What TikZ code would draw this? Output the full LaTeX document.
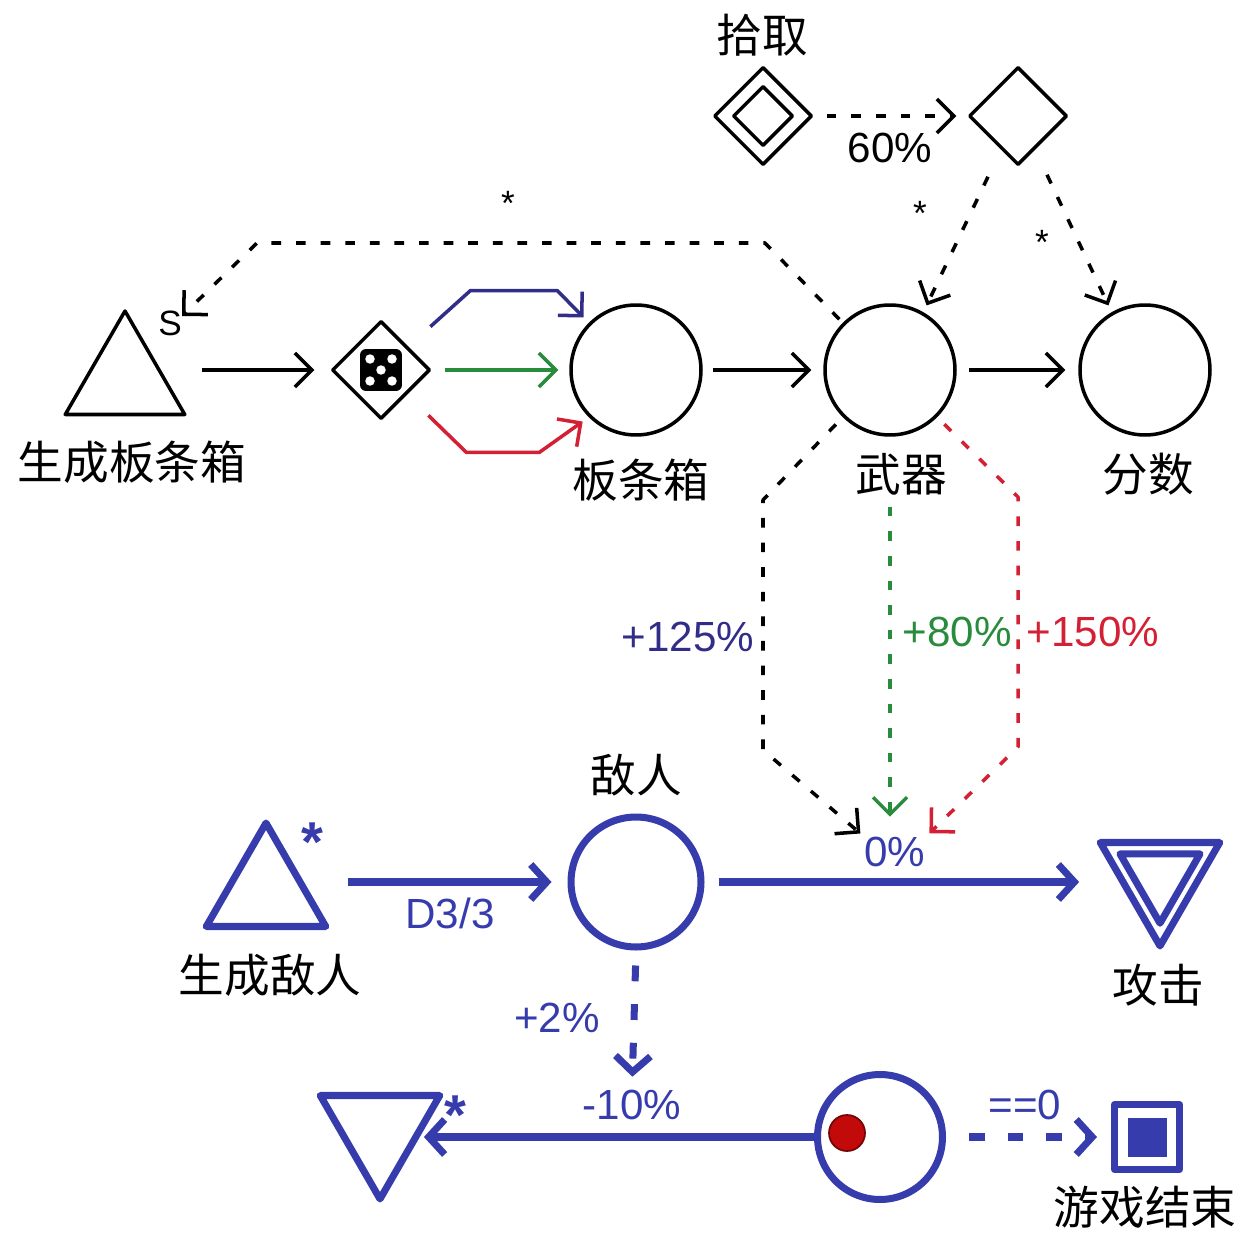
\documentclass[tikz,border=0pt]{standalone}
\usepackage{fontspec}
\setmainfont{Liberation Sans}
\newfontfamily\cjk{Noto Sans CJK SC}
\usetikzlibrary{shapes.geometric,arrows.meta}
\definecolor{mblue}{RGB}{55,60,172}
\definecolor{mnavy}{RGB}{50,46,135}
\definecolor{mgreen}{RGB}{40,140,60}
\definecolor{mred}{RGB}{212,32,52}
\definecolor{mdot}{RGB}{195,10,10}
\begin{document}
\begin{tikzpicture}[x=0.02cm, y=-0.02cm, line join=round,
  >={Straight Barb[length=0.34cm,width=0.68cm]},
  ctext/.style={font=\cjk\fontsize{26}{28}\selectfont, inner sep=0pt},
  ntext/.style={font=\fontsize{24}{26}\selectfont, inner sep=0pt},
  smallstar/.style={font=\fontsize{20}{22}\selectfont, inner sep=0pt},
  bigstar/.style={font=\bfseries\fontsize{32}{34}\selectfont, inner sep=0pt, mblue},
  pool/.style={circle, draw, line width=2pt, minimum size=2.6cm, inner sep=0pt},
  gate/.style={diamond, draw, line width=2pt, minimum size=1.96cm, inner sep=0pt},
  source/.style={regular polygon, regular polygon sides=3, draw, line width=2pt, minimum size=2.76cm, inner sep=0pt},
  drain/.style={source, shape border rotate=180},
  flow/.style={->, line width=2pt},
  modlink/.style={->, line width=2pt, dash pattern=on 5.5pt off 8.5pt},
  bpool/.style={pool, draw=mblue, line width=4pt},
  bflow/.style={-{Straight Barb[length=0.32cm,width=0.7cm]}, draw=mblue, line width=4pt},
  bmod/.style={bflow, dash pattern=on 9pt off 13pt},
]
  % 1. Oben: Aufsammeln, Kisten, Waffe, Punkte.
  % 2. Modifikatoren der Waffe auf den Angriff.
  % 3. Unten: Gegner, Leben, Spielende.
  \useasboundingbox (0,0) rectangle (1255,1233);

  % pickup
  \node[ctext] (pickuplbl) at (762,35) {拾取};
  \node[gate] (pickup) at (763,116) {};
  \node[gate, minimum size=1.2cm] (pickupin) at (pickup) {};
  \node[gate] (picked) at (1018,116) {};
  \node[ntext] (pct60) at (890,148) {60\%};

  % crates row
  \node[source] (cratesrc) at (125,380) {};
  \node[smallstar] (slbl) at (170,323) {S};
  \node[ctext] (cratesrclbl) at (132,462) {生成板条箱};
  \node[gate] (dice) at (381,370) {};
  \node[fill=black, rounded corners=0.12cm, minimum size=0.84cm, inner sep=0pt] (die) at (dice) {};
  \foreach \dx/\dy in {-11/-11, 11/-11, 0/0, -11/11, 11/11}
    \fill[white] ([shift={(\dx,\dy)}]die.center) circle (0.095cm);
  \node[pool] (crate) at (636,370) {};
  \node[ctext] (cratelbl) at (641,480) {板条箱};
  \node[pool] (weapon) at (890,370) {};
  \node[ctext] (weaponlbl) at (901,474) {武器};
  \node[pool] (score) at (1145,370) {};
  \node[ctext] (scorelbl) at (1148,474) {分数};
  \node[smallstar] (star1) at (508,203) {*};
  \node[smallstar] (star2) at (920,213) {*};
  \node[smallstar] (star3) at (1042,242) {*};

  \draw[modlink, shorten <=0.26cm, shorten >=0.22cm] (pickup.east) -- (picked.west);
  \draw[modlink, shorten >=0.15cm] ([shift={(-30,10)}]picked.south) -- (weapon.60);
  \draw[modlink, shorten >=0.15cm] ([shift={(29,8)}]picked.south) -- (score.120);

  \draw[flow, shorten <=0.7cm, shorten >=0.32cm] (cratesrc.east |- dice.west) -- (dice.west);
  \draw[flow, mnavy, shorten >=0.15cm] ([shift={(24,-18)}]dice.north east) -- ++(40,-36) -- ++(87,0) -- (crate.135);
  \draw[flow, mgreen, shorten <=0.26cm, shorten >=0.22cm] (dice.east) -- (crate.west);
  \draw[flow, mred, shorten >=0.15cm] ([shift={(22,20)}]dice.south east) -- ++(38,37) -- ++(73,0) -- (crate.225);
  \draw[flow, shorten <=0.2cm, shorten >=0.24cm] (crate) -- (weapon);
  \draw[flow, shorten <=0.24cm, shorten >=0.26cm] (weapon) -- (score);

  \coordinate (sbendr) at (765,243);
  \coordinate (sbendl) at (257,243);
  \coordinate (stip) at (182,316);
  \draw[modlink, shorten <=0.1cm] (weapon.135) -- (sbendr) -- (sbendl) -- (stip);

  % enemies row
  \node[source, draw=mblue, line width=4pt] (enemysrc) at (266,892) {};
  \node[bigstar] (star4) at (312,842) {*};
  \node[ctext] (enemysrclbl) at (270,975) {生成敌人};
  \node[bpool] (enemy) at (636,882) {};
  \node[ctext] (enemylbl) at (636,775) {敌人};
  \node[drain, draw=mblue, line width=4pt] (attack) at (1160,877) {};
  \node[drain, draw=mblue, line width=4pt, minimum size=1.85cm] (attackin) at (attack) {};
  \node[ctext] (attacklbl) at (1158,985) {攻击};
  \node[ntext, mblue] (d33) at (450,913) {D3/3};
  \node[ntext, mblue] (zero) at (895,852) {0\%};

  \draw[bflow, shorten <=0.76cm, shorten >=0.32cm] (enemysrc.east |- enemy.west) -- (enemy.west);
  \draw[bflow, shorten <=0.28cm, shorten >=0.74cm] (enemy.east) -- (enemy.east -| attack.west);

  % weapon modifiers
  \coordinate (m1a) at (763,500);
  \coordinate (m1b) at (763,750);
  \coordinate (m3a) at (1018,497);
  \coordinate (m3b) at (1018,747);
  \draw[modlink, shorten <=0.2cm, shorten >=0.1cm] (weapon.225) -- (m1a) -- (m1b) -- (zero.north west);
  \draw[modlink, mgreen, shorten <=1.4cm, shorten >=0.4cm] (weapon.south) -- (weapon.south |- zero.north);
  \draw[modlink, mred, shorten <=0.2cm, shorten >=0.1cm] (weapon.315) -- (m3a) -- (m3b) -- (zero.north east);
  \node[ntext, mnavy] (mod125) at (688,637) {+125\%};
  \node[ntext, mgreen] (mod80) at (957,632) {+80\%};
  \node[ntext, mred] (mod150) at (1093,632) {+150\%};

  % health and game over
  \node[bpool, minimum size=2.5cm] (health) at (880,1137) {};
  \node[circle, fill=mdot, draw=mdot!60!black, line width=1pt, minimum size=0.72cm, inner sep=0pt] (token) at (847,1133) {};
  \node[drain, draw=mblue, line width=4pt] (death) at (380,1130) {};
  \node[bigstar] (star5) at (455,1115) {*};
  \node[ntext, mblue] (minus10) at (632,1105) {-10\%};
  \node[ntext, mblue] (plus2) at (557,1018) {+2\%};
  \node[draw=mblue, line width=4pt, minimum size=1.3cm, inner sep=0pt] (gameover) at (1147,1137) {};
  \node[fill=mblue, minimum size=0.78cm, inner sep=0pt] (gameoverin) at (gameover) {};
  \node[ntext, mblue] (eqzero) at (1025,1105) {==0};
  \node[ctext] (gameoverlbl) at (1145,1207) {游戏结束};

  \draw[bflow] (health.west) -- (health.west -| death.east);
  \draw[bmod, shorten <=0.3cm, shorten >=0.26cm] (enemy.south) -- (minus10.north);
  \draw[bmod, shorten <=0.46cm, shorten >=0.28cm] (health) -- (gameover);
\end{tikzpicture}
\end{document}
